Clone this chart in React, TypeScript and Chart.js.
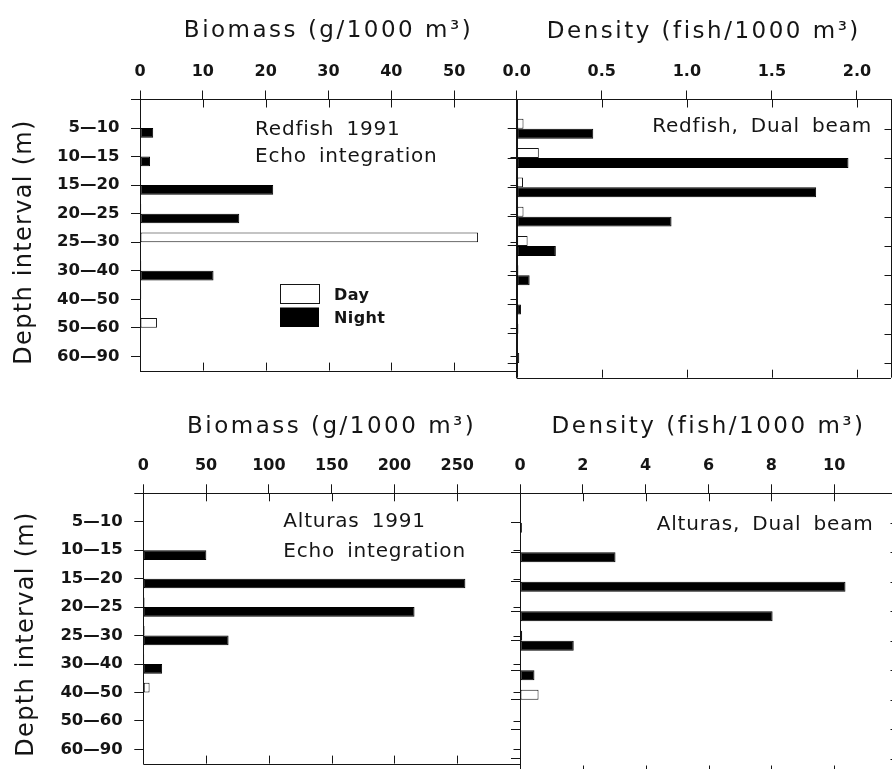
import React, { useEffect, useRef } from 'react';
import { Chart, registerables } from 'chart.js';

Chart.register(...registerables);

// ---------------- data ----------------
const depthIntervals = ['5—10', '10—15', '15—20', '20—25', '25—30', '30—40', '40—50', '50—60', '60—90'];
const seriesNames = ['Day', 'Night'];

const redfishBiomassDay = [0, 0, 0, 0.2, 53.8, 0.2, 0.2, 2.7, 0];
const redfishBiomassNight = [2.1, 1.6, 21.2, 15.8, 0, 11.7, 0, 0, 0];
const redfishDensityDay = [0.04, 0.13, 0.037, 0.04, 0.064, 0.01, 0, 0.01, 0.015];
const redfishDensityNight = [0.45, 1.95, 1.76, 0.91, 0.23, 0.076, 0.025, 0, 0];

const alturasBiomassDay = [0, 0, 0, 1, 1, 0.7, 5, 0, 0];
const alturasBiomassNight = [0, 50.2, 256.5, 216, 67.9, 15, 0, 0, 0];
const alturasDensityDay = [0, 0, 0, 0, 0.07, 0.03, 0.59, 0, 0];
const alturasDensityNight = [0.06, 3.04, 10.36, 8.04, 1.71, 0.46, 0, 0, 0];

const redfishBiomassTicks = [0, 10, 20, 30, 40, 50];
const redfishDensityTicks = [0, 0.5, 1.0, 1.5, 2.0];
const alturasBiomassTicks = [0, 50, 100, 150, 200, 250];
const alturasDensityTicks = [0, 2, 4, 6, 8, 10];

const biomassTitle = 'Biomass (g/1000 m³)';
const densityTitle = 'Density (fish/1000 m³)';
const depthTitle = 'Depth interval (m)';

// ---------------- styles / layout ----------------
const FONT = '"DejaVu Sans", Verdana, sans-serif';
const INK = '#151515';

type Note = { text: string; x: number; y: number; align: CanvasTextAlign };
type Spec = {
  canvas: { x: number; y: number; w: number; h: number };
  area: { left: number; top: number; right: number; bottom: number };
  xMax: number;
  xTicks: number[];
  fmt: (v: number) => string;
  day: number[];
  night: number[];
  title: string;
  titleBase: number;
  tickPad: number;
  notes: Note[];
  yLabels: boolean;
  yTitle?: { x: number; y: number };
  legend?: {
    boxX: number; boxW: number; dayY: number; dayH: number; nightY: number; nightH: number;
    textX: number; dayBase: number; nightBase: number;
  };
};

function drawText(
  ctx: CanvasRenderingContext2D, text: string, x: number, y: number,
  o: { size: number; weight?: string; align?: CanvasTextAlign; spacing?: number; word?: number; rotate?: number }
) {
  ctx.save();
  ctx.font = `${o.weight ?? 'normal'} ${o.size}px ${FONT}`;
  (ctx as any).letterSpacing = `${o.spacing ?? 0}px`;
  (ctx as any).wordSpacing = `${o.word ?? 0}px`;
  ctx.fillStyle = INK;
  ctx.textAlign = o.align ?? 'left';
  ctx.textBaseline = 'alphabetic';
  ctx.translate(x, y);
  if (o.rotate) ctx.rotate(o.rotate);
  ctx.fillText(text, 0, 0);
  ctx.restore();
}

const al = (v: number) => Math.round(v) + 0.5;

function Panel({ spec }: { spec: Spec }) {
  const ref = useRef<HTMLCanvasElement>(null);
  useEffect(() => {
    const cv = ref.current!;
    const ox = spec.canvas.x;
    const oy = spec.canvas.y;
    const toPts = (vals: number[]) => vals.map((v, i) => ({ x: v, y: i + 1 }));

    const framePlugin = {
      id: 'frame',
      afterDraw(chart: any) {
        const ctx: CanvasRenderingContext2D = chart.ctx;
        const { left, top, right, bottom } = chart.chartArea;
        const xs = chart.scales.x;
        const ys = chart.scales.y;
        ctx.save();
        ctx.strokeStyle = INK;
        ctx.lineWidth = 1;
        const line = (x1: number, y1: number, x2: number, y2: number) => {
          ctx.beginPath();
          ctx.moveTo(x1, y1);
          ctx.lineTo(x2, y2);
          ctx.stroke();
        };
        line(left, al(bottom), right, al(bottom));
        line(al(right), top, al(right), bottom);
        for (const t of xs.ticks) {
          const px = al(xs.getPixelForValue(t.value));
          line(px, top, px, top + 8);
          line(px, bottom, px, bottom - 8);
        }
        for (const t of ys.ticks) {
          if (t.value <= 0) continue;
          const py = al(ys.getPixelForValue(t.value));
          line(al(right), py, al(right) - 7, py);
        }
        ctx.restore();

        const cx = (left + right) / 2;
        drawText(ctx, spec.title, cx, spec.titleBase - oy, { size: 23, align: 'center', spacing: 2.5 });
        if (spec.yTitle) {
          drawText(ctx, depthTitle, spec.yTitle.x - ox, spec.yTitle.y - oy, {
            size: 24, align: 'center', spacing: 1.3, rotate: -Math.PI / 2,
          });
        }
        for (const n of spec.notes) {
          drawText(ctx, n.text, n.x - ox, n.y - oy, { size: 20, align: n.align, spacing: 0.8, word: 5 });
        }
        if (spec.legend) {
          const L = spec.legend;
          const ds = chart.data.datasets;
          ctx.save();
          ctx.lineWidth = 1;
          ctx.strokeStyle = INK;
          ctx.fillStyle = ds[0].backgroundColor;
          ctx.fillRect(L.boxX - ox, L.dayY - oy, L.boxW, L.dayH);
          ctx.strokeRect(al(L.boxX - ox), al(L.dayY - oy), L.boxW, L.dayH);
          ctx.fillStyle = ds[1].backgroundColor;
          ctx.fillRect(L.boxX - ox, L.nightY - oy, L.boxW, L.nightH);
          ctx.restore();
          drawText(ctx, ds[0].label, L.textX - ox, L.dayBase - oy, { size: 16, weight: 'bold', spacing: 0.4 });
          drawText(ctx, ds[1].label, L.textX - ox, L.nightBase - oy, { size: 16, weight: 'bold', spacing: 0.4 });
        }
      },
    };

    const chart = new Chart(cv, {
      type: 'bar',
      data: {
        datasets: [
          {
            label: seriesNames[0],
            data: toPts(spec.day),
            backgroundColor: '#ffffff',
            borderColor: INK,
            borderWidth: 1,
            borderSkipped: false,
            categoryPercentage: 0.68,
            barPercentage: 1,
          },
          {
            label: seriesNames[1],
            data: toPts(spec.night),
            backgroundColor: '#000000',
            borderColor: '#000000',
            borderWidth: 1,
            borderSkipped: false,
            categoryPercentage: 0.68,
            barPercentage: 1,
          },
        ],
      } as any,
      options: {
        indexAxis: 'y',
        responsive: false,
        maintainAspectRatio: false,
        animation: false,
        devicePixelRatio: 1,
        events: [],
        layout: {
          padding: {
            left: 0,
            top: 0,
            right: spec.canvas.x + spec.canvas.w - spec.area.right,
            bottom: spec.canvas.y + spec.canvas.h - spec.area.bottom,
          },
        },
        plugins: { legend: { display: false }, tooltip: { enabled: false }, title: { display: false } },
        scales: {
          x: {
            type: 'linear',
            position: 'top',
            offset: false,
            min: 0,
            max: spec.xMax,
            afterBuildTicks: (s: any) => {
              s.ticks = spec.xTicks.map((v) => ({ value: v }));
            },
            afterFit: (s: any) => {
              s.height = spec.area.top - oy;
            },
            ticks: {
              autoSkip: false,
              maxRotation: 0,
              minRotation: 0,
              padding: spec.tickPad,
              color: INK,
              font: { family: FONT, size: 16, weight: 'bold', lineHeight: 1.2 },
              callback: (v: any) => spec.fmt(Number(v)),
            },
            grid: { offset: false, drawOnChartArea: false, drawTicks: true, tickLength: 9, color: INK, lineWidth: 1 },
            border: { display: true, color: INK, width: 1 },
          },
          y: {
            type: 'linear',
            position: 'left',
            offset: false,
            reverse: true,
            min: 0,
            max: depthIntervals.length + 0.5,
            afterBuildTicks: (s: any) => {
              s.ticks = [0, ...depthIntervals.map((_, i) => i + 1)].map((v) => ({ value: v }));
            },
            afterFit: (s: any) => {
              s.width = spec.area.left - ox;
            },
            ticks: {
              autoSkip: false,
              maxRotation: 0,
              minRotation: 0,
              padding: spec.yLabels ? 11.5 : 0,
              color: INK,
              font: { family: FONT, size: 16.5, weight: 'bold', lineHeight: 1.2 },
              callback: (v: any) => (spec.yLabels ? depthIntervals[Number(v) - 1] ?? '' : ''),
            },
            grid: { offset: false, drawOnChartArea: false, drawTicks: true, tickLength: 9, color: INK, lineWidth: 1 },
            border: { display: true, color: INK, width: 1 },
          },
        },
      } as any,
      plugins: [framePlugin],
    });
    return () => chart.destroy();
  }, [spec]);

  return (
    <canvas
      ref={ref}
      width={spec.canvas.w}
      height={spec.canvas.h}
      style={{
        position: 'absolute',
        left: spec.canvas.x,
        top: spec.canvas.y,
        width: spec.canvas.w,
        height: spec.canvas.h,
      }}
    />
  );
}

const specs: Spec[] = [
  {
    canvas: { x: 0, y: 0, w: 530, h: 392 },
    area: { left: 140, top: 99.5, right: 517, bottom: 377.7 },
    xMax: 60,
    xTicks: redfishBiomassTicks,
    fmt: (v) => String(v),
    day: redfishBiomassDay,
    night: redfishBiomassNight,
    title: biomassTitle,
    titleBase: 37.3,
    tickPad: 9,
    notes: [
      { text: 'Redfish 1991', x: 255, y: 135, align: 'left' },
      { text: 'Echo integration', x: 255, y: 161.7, align: 'left' },
    ],
    yLabels: true,
    yTitle: { x: 31, y: 242 },
    legend: {
      boxX: 280, boxW: 39, dayY: 284, dayH: 19, nightY: 307.5, nightH: 19.5,
      textX: 334, dayBase: 299.5, nightBase: 323.3,
    },
  },
  {
    canvas: { x: 490, y: 0, w: 402, h: 392 },
    area: { left: 516.7, top: 99.5, right: 891, bottom: 377.7 },
    xMax: 2.2,
    xTicks: redfishDensityTicks,
    fmt: (v) => v.toFixed(1),
    day: redfishDensityDay,
    night: redfishDensityNight,
    title: densityTitle,
    titleBase: 37.5,
    tickPad: 9,
    notes: [{ text: 'Redfish, Dual beam', x: 872, y: 131.7, align: 'right' }],
    yLabels: false,
  },
  {
    canvas: { x: 0, y: 385, w: 535, h: 400 },
    area: { left: 143.3, top: 493.3, right: 520, bottom: 773.5 },
    xMax: 300,
    xTicks: alturasBiomassTicks,
    fmt: (v) => String(v),
    day: alturasBiomassDay,
    night: alturasBiomassNight,
    title: biomassTitle,
    titleBase: 433.3,
    tickPad: 8.5,
    notes: [
      { text: 'Alturas 1991', x: 283.3, y: 527.3, align: 'left' },
      { text: 'Echo integration', x: 283.3, y: 556.7, align: 'left' },
    ],
    yLabels: true,
    yTitle: { x: 33, y: 634 },
  },
  {
    canvas: { x: 490, y: 385, w: 420, h: 400 },
    area: { left: 520, top: 493.3, right: 897, bottom: 773.5 },
    xMax: 12,
    xTicks: alturasDensityTicks,
    fmt: (v) => String(v),
    day: alturasDensityDay,
    night: alturasDensityNight,
    title: densityTitle,
    titleBase: 432.7,
    tickPad: 8.5,
    notes: [{ text: 'Alturas, Dual beam', x: 873.5, y: 530, align: 'right' }],
    yLabels: false,
  },
];

export default function App() {
  return (
    <div
      style={{
        position: 'absolute',
        left: 0,
        top: 0,
        width: 892,
        height: 769,
        overflow: 'hidden',
        background: '#ffffff',
      }}
    >
      {specs.map((s, i) => (
        <Panel key={i} spec={s} />
      ))}
    </div>
  );
}
